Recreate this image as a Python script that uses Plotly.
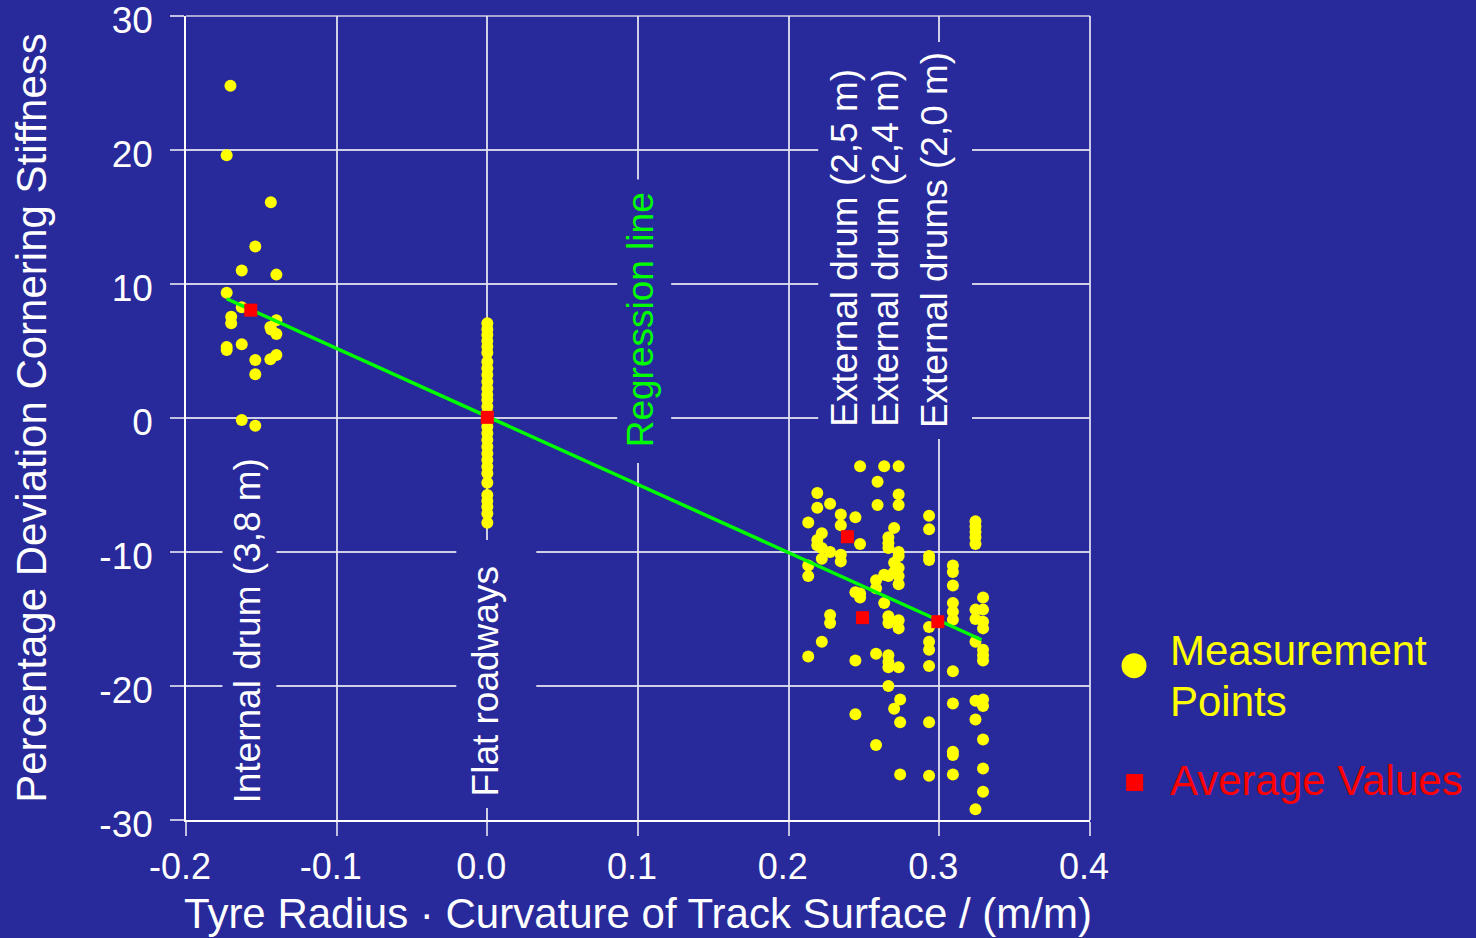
import plotly.graph_objects as go

# ---------------- data ----------------
# Internal drum (3,8 m)
internal_x = [-0.1705, -0.173, -0.1437, -0.154, -0.163, -0.140, -0.173, -0.163, -0.170, -0.170,
              -0.140, -0.144, -0.140, -0.1435, -0.173, -0.173, -0.163, -0.154, -0.140, -0.144,
              -0.154, -0.163, -0.154]
internal_y = [24.8, 19.6, 16.1, 12.8, 11.0, 10.7, 9.35, 8.26, 7.56, 7.07,
              7.3, 6.8, 6.27, 6.6, 5.3, 5.07, 5.5, 4.33, 4.7, 4.38,
              3.26, -0.15, -0.57]

# Flat roadways (x = 0)
flat_y = [7.07, 6.62, 6.19, 5.75, 5.32, 4.87, 4.20, 3.71, 3.21, 2.71,
          2.21, 1.72, 1.34, 0.84, 0.35, -0.15, -0.65, -1.14, -1.64, -2.14,
          -2.64, -3.13, -3.63, -4.13, -4.83, -5.75, -6.19, -6.62, -7.12, -7.81]
flat_x = [0.0] * len(flat_y)

# External drums (2,5 m / 2,4 m / 2,0 m)
external_x = ([0.213] * 4 + [0.219] * 4 + [0.222] * 4 + [0.2275] * 4 + [0.2346] * 4 +
              [0.2443] * 4 + [0.2474] * 4 + [0.259] * 2 + [0.258] * 4 + [0.2634] * 3 +
              [0.2662] * 10 + [0.270] * 4 + [0.273] * 11 + [0.274] * 3 + [0.2932] * 10 +
              [0.309] * 11 + [0.324] * 11 + [0.329] * 12)
external_y = ([-7.8, -11.0, -11.8, -17.8] +
              [-5.6, -6.7, -9.1, -9.5] +
              [-8.6, -9.7, -10.5, -16.7] +
              [-6.4, -10.0, -14.7, -15.3] +
              [-7.2, -8.0, -10.2, -10.7] +
              [-7.4, -13.0, -18.1, -22.1] +
              [-3.6, -9.4, -13.1, -13.4] +
              [-4.75, -6.5] +
              [-12.1, -12.7, -17.6, -24.4] +
              [-3.6, -11.7, -13.8] +
              [-8.9, -9.35, -9.7, -11.8, -14.8, -15.3, -17.7, -18.2, -18.6, -20.0] +
              [-8.2, -10.8, -11.5, -21.7] +
              [-3.6, -5.7, -6.5, -10.0, -10.3, -11.2, -11.8, -12.4, -15.1, -15.7, -18.6] +
              [-21.0, -22.7, -26.6] +
              [-7.3, -8.3, -10.3, -10.6, -15.6, -16.7, -17.3, -18.5, -22.7, -26.7] +
              [-11.0, -11.5, -12.5, -13.8, -14.45, -15.05, -18.9, -21.3, -24.9, -25.15, -26.6] +
              [-7.7, -8.1, -8.5, -8.9, -9.4, -14.3, -15.0, -16.7, -21.1, -22.5, -29.2] +
              [-13.4, -14.3, -15.2, -15.7, -17.3, -17.7, -18.1, -21.0, -21.5, -24.0, -26.15, -27.9])

# Average values
avg_x = [-0.157, 0.0, 0.239, 0.249, 0.299]
avg_y = [8.05, 0.05, -8.86, -14.9, -15.2]

# Regression line end points
reg_x = [-0.173, 0.328]
reg_y = [8.9, -16.55]

# Tick labels
x_ticks = [-0.2, -0.1, 0.0, 0.1, 0.2, 0.3, 0.4]
x_ticktext = ["-0.2", "-0.1", "0.0", "0.1", "0.2", "0.3", "0.4"]
y_ticks = [-30, -20, -10, 0, 10, 20, 30]
y_ticktext = ["-30", "-20", "-10", "0", "10", "20", "30"]

# ---------------- style ----------------
BG = "#28299A"
FONT = "Liberation Sans, Arial, sans-serif"
GRID = "rgba(225,225,240,0.9)"

meas_x = internal_x + flat_x + external_x
meas_y = internal_y + flat_y + external_y

fig = go.Figure()
fig.add_trace(go.Scatter(x=meas_x, y=meas_y, mode="markers", name="Measurement Points",
                         marker=dict(color="#FFFF00", size=12, symbol="circle"),
                         showlegend=False))
fig.add_trace(go.Scatter(x=reg_x, y=reg_y, mode="lines", name="Regression line",
                         line=dict(color="#00FF00", width=3.5), showlegend=False))
fig.add_trace(go.Scatter(x=avg_x, y=avg_y, mode="markers", name="Average Values",
                         marker=dict(color="#FF0000", size=13, symbol="square"),
                         showlegend=False))

shapes = []
# frame lines at the top (y=30) and right (x=0.4) -- plotly omits edge gridlines
shapes.append(dict(type="line", xref="paper", yref="paper", x0=0, x1=1, y0=1, y1=1,
                   line=dict(color=GRID, width=1.5), layer="below"))
shapes.append(dict(type="line", xref="paper", yref="paper", x0=1, x1=1, y0=0, y1=1,
                   line=dict(color="white", width=1.5), layer="below"))

# masks behind the vertical labels (hide gridlines)
masks = [
    (-0.1758, -0.140, -29.6, -2.0),
    (-0.0206, 0.0325, -29.1, -9.1),
    (0.0862, 0.122, -3.36, 17.8),
    (0.2196, 0.3217, -1.57, 28.06),
]
for x0, x1, y0, y1 in masks:
    shapes.append(dict(type="rect", xref="x", yref="y", x0=x0, x1=x1, y0=y0, y1=y1,
                       fillcolor=BG, line=dict(width=0), layer="between"))

# legend symbols
shapes.append(dict(type="circle", xref="paper", yref="paper",
                   x0=1.0349, x1=1.0625, y0=0.1764, y1=0.2075,
                   fillcolor="#FFFF00", line=dict(width=0), layer="above"))
shapes.append(dict(type="rect", xref="paper", yref="paper",
                   x0=1.0400, x1=1.0588, y0=0.0361, y1=0.0572,
                   fillcolor="#FF0000", line=dict(width=0), layer="above"))

lab_font = dict(family=FONT, size=37, color="white")
annotations = [
    dict(text="Internal drum (3,8 m)", x=-0.1592, y=-15.9, textangle=-90, font=lab_font),
    dict(text="Flat roadways", x=-0.0013, y=-19.63, textangle=-90, font=lab_font),
    dict(text="Regression line", x=0.1015, y=7.31, textangle=-90,
         font=dict(family=FONT, size=37, color="#00FF00")),
    dict(text="External drum (2,5 m)", x=0.2368, y=12.72, textangle=-90, font=lab_font),
    dict(text="External drum (2,4 m)", x=0.264, y=12.72, textangle=-90, font=lab_font),
    dict(text="External drums (2,0 m)", x=0.2965, y=13.28, textangle=-90, font=lab_font),
]
for a in annotations:
    a.update(xref="x", yref="y", showarrow=False, xanchor="center", yanchor="middle")

leg_font_y = dict(family=FONT, size=42, color="#FFFF00")
leg_font_r = dict(family=FONT, size=42, color="#FF0000")
for txt, yy, fnt in [("Measurement", 0.2102, leg_font_y), ("Points", 0.1474, leg_font_y),
                     ("Average Values", 0.0493, leg_font_r)]:
    annotations.append(dict(text=txt, xref="paper", yref="paper", x=1.0862, y=yy,
                            xanchor="left", yanchor="middle", showarrow=False, font=fnt))

fig.update_layout(
    width=1476, height=938,
    margin=dict(l=186, r=386, t=16, b=118, autoexpand=False),
    paper_bgcolor=BG, plot_bgcolor=BG,
    font=dict(family=FONT, color="white"),
    shapes=shapes, annotations=annotations,
    showlegend=False,
)
fig.update_xaxes(
    range=[-0.2, 0.4], tickvals=x_ticks, ticktext=x_ticktext,
    showgrid=True, gridcolor=GRID, gridwidth=1.5, zeroline=False,
    showline=True, linecolor="white", linewidth=1.5,
    ticks="outside", ticklen=14, tickwidth=1.5, tickcolor="rgba(230,230,245,0.8)",
    tickfont=dict(family=FONT, size=36, color="white"),
    ticklabelshift=-6, ticklabeloverflow="allow",
    title=dict(text="Tyre Radius · Curvature of Track Surface / (m/m)",
               font=dict(family=FONT, size=42, color="white"), standoff=13),
    automargin=False,
)
fig.update_yaxes(
    range=[-30, 30], tickvals=y_ticks, ticktext=y_ticktext,
    showgrid=True, gridcolor=GRID, gridwidth=1.5, zeroline=False,
    showline=True, linecolor="white", linewidth=1.5,
    ticks="outside", ticklen=14, tickwidth=1.5, tickcolor="rgba(230,230,245,0.8)",
    tickfont=dict(family=FONT, size=37, color="white"),
    ticklabelstandoff=10, ticklabelshift=4, ticklabeloverflow="allow",
    title=dict(text="Percentage Deviation Cornering Stiffness",
               font=dict(family=FONT, size=42, color="white"), standoff=40),
    automargin=False,
)

fig.write_html("out.html")
